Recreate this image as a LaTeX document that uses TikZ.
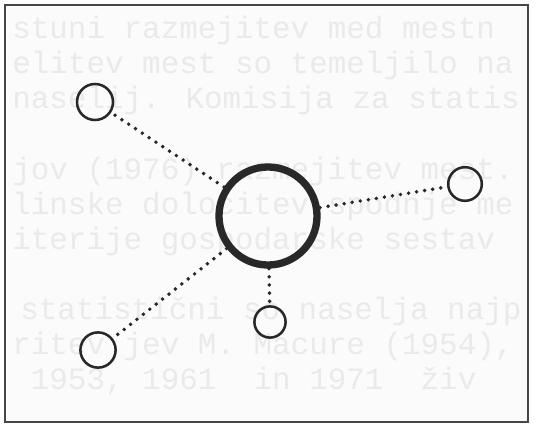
\documentclass[tikz,border=0pt]{standalone}
\usepackage{fontspec}
\newfontfamily\ghostfont{Liberation Mono}
\usepackage{xcolor}
\definecolor{inkgray}{RGB}{40,40,40}
\definecolor{framegray}{RGB}{70,70,70}
\definecolor{ghostgray}{RGB}{234,234,234}
\definecolor{paper}{RGB}{251,251,251}
\usepackage{tikz}
\usetikzlibrary{positioning}
\tikzset{
  city/.style={circle, draw=inkgray, line width=5.2pt, inner sep=0pt, minimum size=2.45cm},
  town/.style={circle, draw=inkgray, line width=1.8pt, inner sep=0pt},
  link/.style={draw=inkgray, line width=2.8pt, line cap=round, dash pattern=on 0pt off 5.8pt},
  ghost/.style={anchor=west, inner sep=0pt, text=ghostgray, font=\ghostfont\fontsize{22}{22}\selectfont}
}

\begin{document}
\begin{tikzpicture}[x=0.025cm, y=-0.025cm]
  \useasboundingbox (0,0) rectangle (536,427);
  % Paper and frame
  \fill[paper] (5,5) rectangle (528,422);

  % --- Show-through text of the scanned page ---
  \node[ghost] (g1) at (12,31)  {stuni razmejitev med mestn};
  \node[ghost] (g2) at (12,66)  {elitev mest so temeljilo na};
  \node[ghost] (g3) at (12,101) {naselij. Komisija za statis};
  \node[ghost] (g4) at (12,171) {jov (1976) razmejitev mest.};
  \node[ghost] (g5) at (12,206) {linske določitev spodnje me};
  \node[ghost] (g6) at (12,241) {iterije gospodarske sestav};
  \node[ghost] (g7) at (20,311) {statistični so naselja najp};
  \node[ghost] (g8) at (12,346) {ritev jev M. Macure (1954),};
  \node[ghost] (g9) at (12,381) {\ 1953,\ 1961\ \ in\ 1971\ \ živ};

  \draw[framegray, line width=1.8pt] (5,5) rectangle (528,422);

  % --- Central place and satellites ---
  \node[city] (centre) at (268,216) {};
  \node[town, minimum size=0.90cm] (nw) at (95,102) {};
  \node[town, minimum size=0.84cm] (east) at (465,184) {};
  \node[town, minimum size=0.88cm] (sw) at (98,350) {};
  \node[town, minimum size=0.78cm] (south) at (270,322) {};

  % Dotted links
  \draw[link] (centre) -- (nw);
  \draw[link] (centre) -- (east);
  \draw[link] (centre) -- (sw);
  \draw[link] (centre) -- (south);
\end{tikzpicture}
\end{document}
